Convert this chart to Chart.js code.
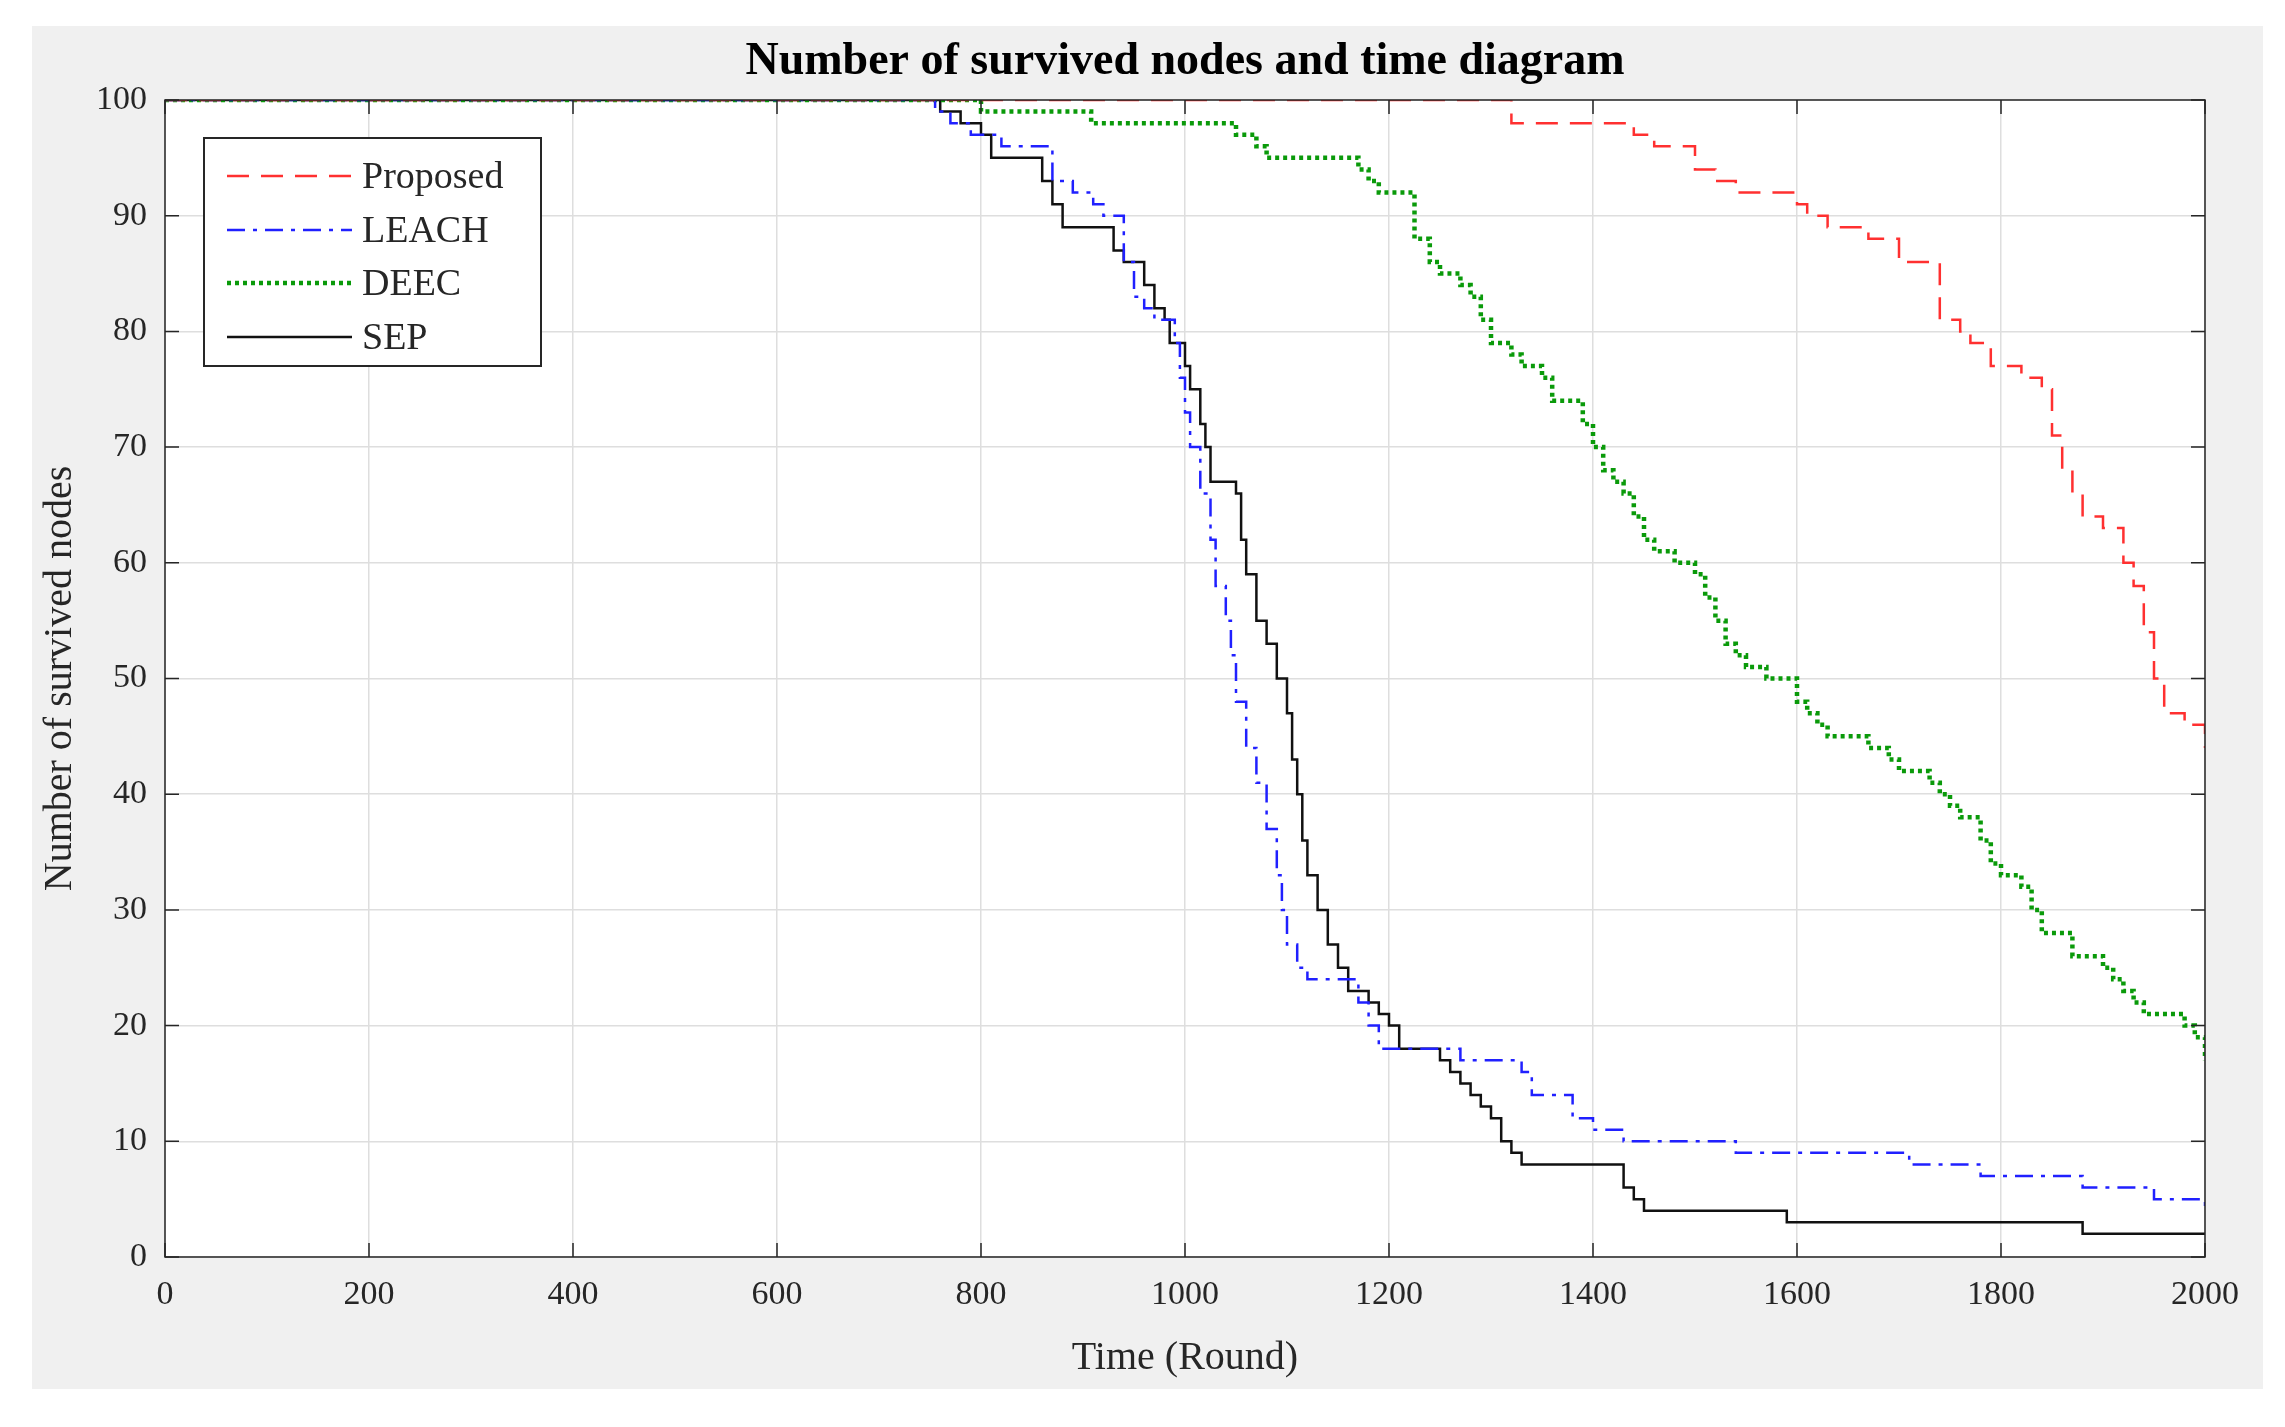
<!DOCTYPE html>
<html><head><meta charset="utf-8">
<script src="https://cdn.jsdelivr.net/npm/chart.js@4/dist/chart.umd.min.js"></script>
<style>html,body{margin:0;padding:0;background:#fff}#c{display:block}</style>
</head><body>
<canvas id="c" width="2285" height="1427"></canvas>
<script>
const chartTitle = "Number of survived nodes and time diagram";
const xTitle = "Time (Round)";
const yTitle = "Number of survived nodes";
const xTicks = [0,200,400,600,800,1000,1200,1400,1600,1800,2000];
const yTicks = [0,10,20,30,40,50,60,70,80,90,100];

const proposedX = [0,1320,1440,1460,1500,1520,1540,1600,1610,1630,1670,1700,1740,1760,1770,1790,1820,1840,1850,1860,1870,1880,1900,1920,1930,1940,1950,1960,1980,2000];
const proposedY = [100,98,97,96,94,93,92,91,90,89,88,86,81,80,79,77,76,75,71,68,66,64,63,60,58,54,50,47,46,44];

const leachX = [0,755,770,790,820,870,890,910,920,940,950,960,970,990,995,1000,1005,1015,1025,1030,1040,1045,1050,1060,1070,1080,1090,1095,1100,1110,1120,1170,1180,1190,1270,1330,1340,1380,1400,1430,1540,1710,1780,1880,1950,2000];
const leachY = [100,99,98,97,96,93,92,91,90,86,83,82,81,79,76,73,70,66,62,58,55,52,48,44,41,37,33,30,27,25,24,22,20,18,17,16,14,12,11,10,9,8,7,6,5,4];

const deecX = [0,800,908,1050,1070,1080,1170,1180,1190,1225,1240,1250,1270,1280,1290,1300,1320,1330,1350,1360,1390,1400,1410,1420,1430,1440,1450,1460,1480,1500,1510,1520,1530,1540,1550,1570,1600,1610,1620,1630,1670,1690,1700,1730,1740,1750,1760,1780,1790,1800,1820,1830,1840,1870,1900,1910,1920,1930,1940,1980,1990,2000];
const deecY = [100,99,98,97,96,95,94,93,92,88,86,85,84,83,81,79,78,77,76,74,72,70,68,67,66,64,62,61,60,59,57,55,53,52,51,50,48,47,46,45,44,43,42,41,40,39,38,36,34,33,32,30,28,26,25,24,23,22,21,20,19,17];

const sepX = [0,760,780,800,810,860,870,880,930,940,960,970,980,985,1000,1005,1015,1020,1025,1050,1055,1060,1070,1080,1090,1100,1105,1110,1115,1120,1130,1140,1150,1160,1180,1190,1200,1210,1250,1260,1270,1280,1290,1300,1310,1320,1330,1430,1440,1450,1590,1880,2000];
const sepY = [100,99,98,97,95,93,91,89,87,86,84,82,81,79,77,75,72,70,67,66,62,59,55,53,50,47,43,40,36,33,30,27,25,23,22,21,20,18,17,16,15,14,13,12,10,9,8,6,5,4,3,2,2];

const pts = (xs, ys) => xs.map((x,i)=>({x, y: ys[i]}));
const F = "'Liberation Serif','Times New Roman',serif";

const bgPlugin = {
  id:'bg',
  beforeDraw(c){
    const ctx=c.ctx; ctx.save();
    ctx.fillStyle='#fff'; ctx.fillRect(0,0,c.width,c.height);
    ctx.fillStyle='#f0f0f0'; ctx.fillRect(32,26,2231,1363);
    const a=c.chartArea; ctx.fillStyle='#fff'; ctx.fillRect(a.left,a.top,a.right-a.left,a.bottom-a.top);
    ctx.restore();
  },
  afterDraw(c){
    const ctx=c.ctx, a=c.chartArea; ctx.save();
    ctx.strokeStyle='#262626'; ctx.lineWidth=1.5; ctx.strokeRect(a.left,a.top,a.right-a.left,a.bottom-a.top);
    const xs=c.scales.x, ys=c.scales.y;
    ctx.beginPath();
    xTicks.forEach(v=>{const p=xs.getPixelForValue(v); ctx.moveTo(p,a.bottom); ctx.lineTo(p,a.bottom-14); ctx.moveTo(p,a.top); ctx.lineTo(p,a.top+14);});
    yTicks.forEach(v=>{const p=ys.getPixelForValue(v); ctx.moveTo(a.left,p); ctx.lineTo(a.left+14,p); ctx.moveTo(a.right,p); ctx.lineTo(a.right-14,p);});
    ctx.stroke();
    ctx.fillStyle='#000'; ctx.textAlign='center'; ctx.textBaseline='middle';
    ctx.font="bold 46px "+F; ctx.fillText(chartTitle,(a.left+a.right)/2,62);
    ctx.fillStyle='#262626'; ctx.font="40px "+F; ctx.fillText(xTitle,(a.left+a.right)/2,1358);
    ctx.save(); ctx.translate(60,(a.top+a.bottom)/2); ctx.rotate(-Math.PI/2); ctx.fillText(yTitle,0,0); ctx.restore();
    ctx.fillStyle='#fff'; ctx.fillRect(204,138,337,228);
    ctx.strokeStyle='#262626'; ctx.lineWidth=2; ctx.strokeRect(204,138,337,228);
    const rows=[176,230,283,337];
    c.data.datasets.forEach((d,i)=>{
      ctx.strokeStyle=d.borderColor; ctx.lineWidth=d.borderWidth; ctx.setLineDash(d.borderDash||[]);
      ctx.beginPath(); ctx.moveTo(227,rows[i]); ctx.lineTo(352,rows[i]); ctx.stroke();
      ctx.setLineDash([]); ctx.fillStyle='#262626'; ctx.textAlign='left'; ctx.font="38px "+F;
      ctx.fillText(d.label,362,rows[i]+2);
    });
    ctx.restore();
  }
};

new Chart(document.getElementById('c'),{
  type:'line',
  data:{datasets:[
    {label:'Proposed',data:pts(proposedX,proposedY),borderColor:'#ff3030',borderWidth:2.5,borderDash:[22,12],stepped:'before',pointRadius:0},
    {label:'LEACH',data:pts(leachX,leachY),borderColor:'#2020ff',borderWidth:2.5,borderDash:[18,8,4,8],stepped:'before',pointRadius:0},
    {label:'DEEC',data:pts(deecX,deecY),borderColor:'#0a9a0a',borderWidth:4.5,borderDash:[4,4],stepped:'before',pointRadius:0},
    {label:'SEP',data:pts(sepX,sepY),borderColor:'#111',borderWidth:2.5,stepped:'before',pointRadius:0}
  ]},
  options:{
    responsive:false,animation:false,devicePixelRatio:1,
    layout:{padding:{left:0,top:100,right:80,bottom:0}},
    plugins:{legend:{display:false},tooltip:{enabled:false},title:{display:false}},
    scales:{
      x:{type:'linear',min:0,max:2000,
        afterBuildTicks(s){s.ticks=xTicks.map(v=>({value:v}));},
        afterFit(s){s.height=170;},
        grid:{color:'#dedede',lineWidth:1.5,drawTicks:false},border:{display:false},
        ticks:{padding:18,maxRotation:0,color:'#262626',font:{family:F,size:34},callback:v=>String(v)}},
      y:{min:0,max:100,
        afterBuildTicks(s){s.ticks=yTicks.map(v=>({value:v}));},
        afterFit(s){s.width=165;},
        grid:{color:'#dedede',lineWidth:1.5,drawTicks:false},border:{display:false},
        ticks:{padding:18,color:'#262626',font:{family:F,size:34},callback:v=>String(v)}}
    }
  },
  plugins:[bgPlugin]
});
</script>
</body></html>
